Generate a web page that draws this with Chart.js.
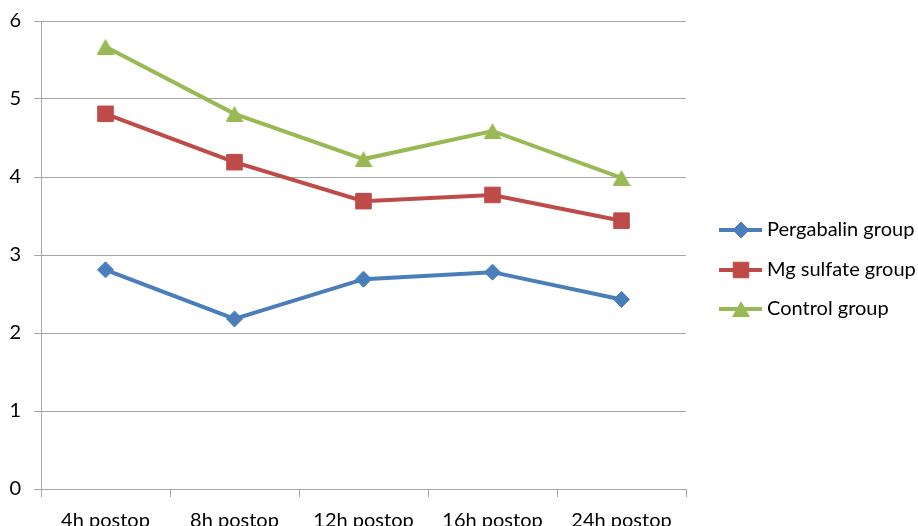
<!DOCTYPE html>
<html>
<head>
<meta charset="utf-8">
<script src="https://cdn.jsdelivr.net/npm/chart.js@4/dist/chart.umd.min.js"></script>
<style>
  html, body { margin: 0; padding: 0; background: #fff; }
  #wrap { width: 918px; height: 526px; }
</style>
</head>
<body>
<div id="wrap"><canvas id="c" width="918" height="526"></canvas></div>
<script>
// Time points after surgery
const categories = ['4h postop', '8h postop', '12h postop', '16h postop', '24h postop'];

// Group means at each time point
const pergabalinGroup = [2.81, 2.18, 2.69, 2.78, 2.43];
const mgSulfateGroup  = [4.81, 4.19, 3.69, 3.77, 3.44];
const controlGroup    = [5.67, 4.81, 4.23, 4.59, 3.99];

const yTicks = [0, 1, 2, 3, 4, 5, 6];

const FONT = 'Lato, "Liberation Sans", sans-serif';
const GRID = '#a6a6a6';

// Triangle marker as an image so it sits centred on its point
function triangleMarker(color, w, h) {
  const cv = document.createElement('canvas');
  cv.width = w; cv.height = h;
  const c = cv.getContext('2d');
  c.fillStyle = color;
  c.beginPath();
  c.moveTo(w / 2, 0);
  c.lineTo(w, h);
  c.lineTo(0, h);
  c.closePath();
  c.fill();
  return cv;
}

const series = [
  { label: 'Pergabalin group', data: pergabalinGroup, color: '#4a7ebb', marker: 'rectRot', r: 8 },
  { label: 'Mg sulfate group', data: mgSulfateGroup,  color: '#be4b48', marker: 'rect',    r: 11 },
  { label: 'Control group',    data: controlGroup,    color: '#98b954', marker: triangleMarker('#98b954', 18, 16), r: 9 }
];

// Legend drawn to the right of the plot: line segment with marker, then label
const sideLegend = {
  id: 'sideLegend',
  afterDraw(chart) {
    const ctx = chart.ctx;
    const x0 = 719, x1 = 762, xm = 741, xt = 767;
    const rows = [230, 270, 309];
    ctx.save();
    chart.data.datasets.forEach((ds, i) => {
      const y = rows[i];
      ctx.strokeStyle = ds.borderColor;
      ctx.lineWidth = 4;
      ctx.beginPath();
      ctx.moveTo(x0, y);
      ctx.lineTo(x1, y);
      ctx.stroke();
      ctx.fillStyle = ds.backgroundColor;
      ctx.strokeStyle = ds.borderColor;
      ctx.lineWidth = 1;
      Chart.helpers.drawPoint(ctx, { pointStyle: ds.pointStyle, radius: ds.pointRadius, borderWidth: 1 }, xm, y);
      ctx.fillStyle = '#000';
      ctx.font = '20px ' + FONT;
      ctx.textBaseline = 'middle';
      ctx.textAlign = 'left';
      ctx.fillText(ds.label, xt, y);
    });
    ctx.restore();
  }
};

new Chart(document.getElementById('c'), {
  type: 'line',
  data: {
    labels: categories,
    datasets: series.map(s => ({
      label: s.label,
      data: s.data,
      borderColor: s.color,
      backgroundColor: s.color,
      borderWidth: 4,
      pointStyle: s.marker,
      pointRadius: s.r,
      pointHoverRadius: s.r,
      pointBorderWidth: 1,
      tension: 0
    }))
  },
  options: {
    responsive: false,
    animation: false,
    events: [],
    layout: { padding: { top: 16, right: 232, left: 0, bottom: 0 } },
    plugins: {
      legend: { display: false },
      tooltip: { enabled: false }
    },
    scales: {
      x: {
        type: 'category',
        offset: true,
        grid: {
          offset: true,
          drawOnChartArea: false,
          drawTicks: true,
          tickLength: 8,
          color: GRID
        },
        border: { display: true, color: GRID, width: 1 },
        ticks: {
          color: '#000',
          font: { family: FONT, size: 20 },
          padding: 12,
          maxRotation: 0,
          autoSkip: false
        },
        afterFit(scale) { scale.height = 37; }
      },
      y: {
        min: 0,
        max: 6,
        afterBuildTicks(scale) { scale.ticks = yTicks.map(v => ({ value: v })); },
        grid: {
          color: GRID,
          lineWidth: 1,
          drawTicks: true,
          tickLength: 7
        },
        border: { display: true, color: GRID, width: 1 },
        ticks: {
          color: '#000',
          font: { family: FONT, size: 20, lineHeight: 0.8 },
          padding: 13
        },
        afterFit(scale) { scale.width = 41; }
      }
    }
  },
  plugins: [sideLegend]
});
</script>
</body>
</html>
